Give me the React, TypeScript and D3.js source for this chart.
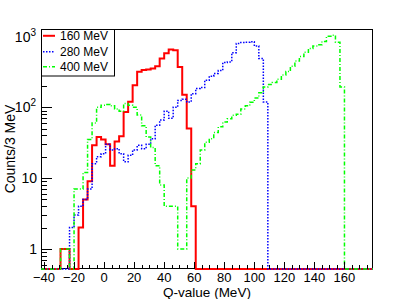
import React, { useEffect, useRef } from 'react'
import * as d3 from 'd3'

// 3 MeV bins, first bin starts at -41 MeV
const binStart = -41
const binWidth = 3

const counts160 = [0, 0, 0, 0, 1, 1, 0, 0, 2, 5, 9, 29, 38, 35, 30, 15, 33, 39, 86, 120, 205, 317, 337, 343, 354, 381, 490, 578, 658, 640, 372, 151, 50, 4]
const counts280 = [0, 0, 0, 0, 0, 0, 2, 3, 4, 5, 7, 16, 20, 22, 30, 25, 26, 22, 17, 21, 25, 29, 26, 30, 36, 56, 66, 88, 70, 100, 125, 130, 119, 156, 184, 190, 241, 275, 300, 330, 428, 438, 590, 800, 820, 830, 845, 732, 490, 119]
const counts400 = [0, 0, 0, 0, 1, 1, 0, 7, 7, 12, 35, 60, 100, 107, 110, 105, 95, 88, 113, 107, 100, 78, 55, 38, 27, 15, 8, 4, 4, 4, 1, 1, 10, 13, 16, 25, 32, 36, 44, 53, 62, 69, 77, 80, 95, 105, 118, 135, 160, 194, 210, 225, 250, 285, 320, 380, 450, 520, 600, 680, 735, 765, 850, 1010, 1040, 830, 194]

const seriesNames = ['160 MeV', '280 MeV', '400 MeV']
const xTicks = [-40, -20, 0, 20, 40, 60, 80, 100, 120, 140, 160]
const yTicks = [1, 10, 100, 1000]

const font = 'Liberation Sans, Arial, Helvetica, sans-serif'

export default function App() {
	const ref = useRef<SVGSVGElement>(null)

	useEffect(() => {
		const svg = d3.select(ref.current)
		svg.selectAll('*').remove()

		const left = 41, right = 373, top = 29, bottom = 269

		const x = d3.scaleLinear().domain([-42, 179]).range([left, right])
		const y = d3.scaleLog().domain([0.52, 1277]).range([bottom, top])

		svg.append('defs')
			.append('clipPath').attr('id', 'frame')
			.append('rect')
				.attr('x', left).attr('y', top - 1)
				.attr('width', right - left).attr('height', bottom - top + 2)

		// frame
		svg.append('rect')
			.attr('x', left + 0.5).attr('y', top + 0.5)
			.attr('width', right - left - 1).attr('height', bottom - top - 1)
			.attr('fill', 'none').attr('stroke', '#000').attr('stroke-width', 1)

		const styles = [
			{ color: '#ff0000', width: 2, dash: null },
			{ color: '#0000ff', width: 1.5, dash: '1.5 1.5' },
			{ color: '#00ff00', width: 1.5, dash: '4 2 1 2' },
		]

		const nBins = Math.ceil((179 - binStart) / binWidth)
		const toY = (c: number) => (c > 0.52 ? y(c) : bottom)

		const stepPoints = (counts: number[]) => {
			const pts: [number, number][] = [[x(-42), bottom]]
			for (let i = 0; i < nBins; i++) {
				const c = counts[i] || 0
				const e0 = binStart + i * binWidth
				pts.push([x(e0), toY(c)])
				pts.push([x(e0 + binWidth), toY(c)])
			}
			return pts
		}

		const line = d3.line()
		const hists = svg.append('g').attr('clip-path', 'url(#frame)')

		;[counts160, counts280, counts400].forEach((counts, i) => {
			hists.append('path')
				.attr('d', line(stepPoints(counts)))
				.attr('fill', 'none')
				.attr('stroke', styles[i].color)
				.attr('stroke-width', styles[i].width)
				.attr('stroke-dasharray', styles[i].dash)
		})

		// x axis ticks (inside the frame)
		const ax = svg.append('g').attr('stroke', '#000').attr('stroke-width', 1)
		d3.range(-40, 179, 5).forEach(v => {
			const major = xTicks.includes(v)
			ax.append('line')
				.attr('x1', Math.round(x(v)) + 0.5).attr('x2', Math.round(x(v)) + 0.5)
				.attr('y1', bottom).attr('y2', bottom - (major ? 7 : 4))
		})

		// y axis ticks
		const minors: number[] = []
		;[0.1, 1, 10, 100, 1000].forEach(d => {
			for (let m = 2; m <= 9; m++) {
				const v = d * m
				if (v > 0.52 && v < 1277) minors.push(v)
			}
		})
		minors.forEach(v => {
			ax.append('line')
				.attr('x1', left).attr('x2', left + 6)
				.attr('y1', Math.round(y(v)) + 0.5).attr('y2', Math.round(y(v)) + 0.5)
		})
		yTicks.forEach(v => {
			ax.append('line')
				.attr('x1', left).attr('x2', left + 11)
				.attr('y1', Math.round(y(v)) + 0.5).attr('y2', Math.round(y(v)) + 0.5)
		})

		// tick labels
		svg.append('g')
			.selectAll('text')
			.data(xTicks)
			.join('text')
				.attr('x', d => x(d))
				.attr('y', 281.5)
				.attr('text-anchor', 'middle')
				.attr('font-family', font)
				.attr('font-size', 13)
				.text(d => (d < 0 ? '\u2212' + Math.abs(d) : String(d)))

		const yl = svg.append('g')
			.attr('font-family', font)
			.attr('font-size', 14)
			.attr('text-anchor', 'end')
		yTicks.forEach(v => {
			const t = yl.append('text').attr('x', 36).attr('y', y(v) + 5)
			const exp = Math.round(Math.log10(v))
			if (exp < 2) {
				t.attr('x', 37).text(String(v))
			} else {
				t.append('tspan').text('10')
				t.append('tspan').attr('font-size', 10).attr('dy', -6).text(String(exp))
			}
		})

		// axis titles
		svg.append('text')
			.attr('x', (left + right) / 2).attr('y', 297)
			.attr('text-anchor', 'middle')
			.attr('font-family', font).attr('font-size', 13.5)
			.text('Q-value (MeV)')

		svg.append('text')
			.attr('transform', `translate(15, ${(top + bottom) / 2}) rotate(-90)`)
			.attr('text-anchor', 'middle')
			.attr('font-family', font).attr('font-size', 14)
			.text('Counts/3 MeV')

		// legend
		const lg = svg.append('g')
		lg.append('rect')
			.attr('x', left + 0.5).attr('y', top + 0.5)
			.attr('width', 73).attr('height', 46.5)
			.attr('fill', '#fff').attr('stroke', '#000').attr('stroke-width', 1)
		const rowY = [35.8, 51.8, 66.8]
		seriesNames.forEach((name, i) => {
			lg.append('line')
				.attr('x1', 43).attr('x2', 55)
				.attr('y1', rowY[i]).attr('y2', rowY[i])
				.attr('stroke', styles[i].color)
				.attr('stroke-width', styles[i].width)
				.attr('stroke-dasharray', styles[i].dash)
			lg.append('text')
				.attr('x', 60).attr('y', rowY[i] + 4.3)
				.attr('font-family', font).attr('font-size', 12)
				.text(name)
		})
	}, [])

	return (
		<svg ref={ref} width={415} height={299}
			style={{ position: 'absolute', left: 0, top: 0, background: '#fff' }} />
	)
}
